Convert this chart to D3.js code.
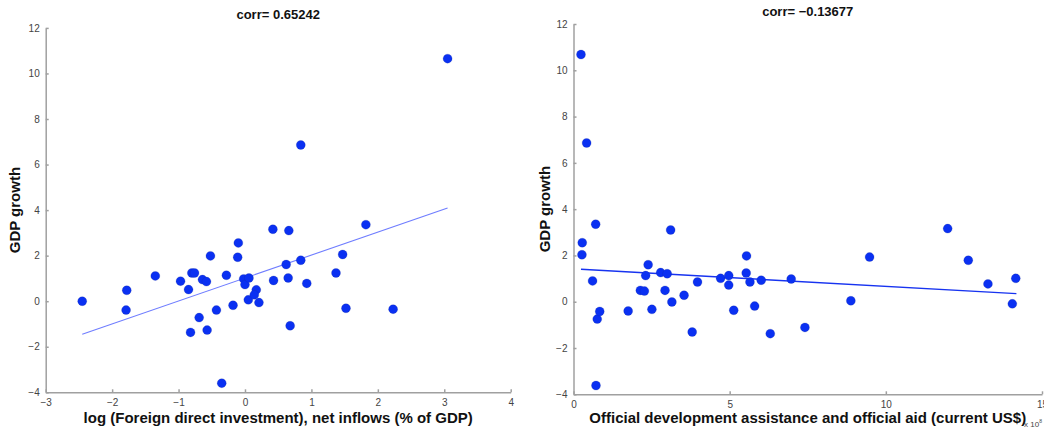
<!DOCTYPE html>
<html>
<head>
<meta charset="utf-8">
<script src="https://cdn.jsdelivr.net/npm/d3@7"></script>
<style>
	body { margin: 0; background: #fff; }
	svg { display: block; font-family: "Liberation Sans", Arial, Helvetica, sans-serif; }
	.axis path, .axis line { stroke: #a0a0a0; stroke-width: 1.5; }
	.axis text { fill: #444; font-size: 10px; }
</style>
</head>
<body>
<svg id="chart" width="1044" height="429"></svg>
<script>
// left panel: log FDI net inflows (% of GDP) vs GDP growth
const fdiLog = [-2.45, -1.78, -1.79, -1.35, -0.97, -0.85, -0.80, -0.76, -0.82, -0.69,
	-0.64, -0.58, -0.57, -0.52, -0.43, -0.35, -0.28, -0.18, -0.11, -0.10,
	-0.02, 0.00, 0.06, 0.05, 0.17, 0.14, 0.21, 0.42, 0.43, 0.62,
	0.66, 0.65, 0.68, 0.84, 0.93, 1.37, 1.47, 1.52, 1.82, 2.23,
	0.84, 3.05];
const fdiGrowth = [0.00, 0.48, -0.39, 1.11, 0.88, 0.51, 1.24, 1.24, -1.37, -0.72,
	0.95, 0.86, -1.27, 1.99, -0.39, -3.60, 1.14, -0.18, 1.93, 2.56,
	0.98, 0.73, 1.02, 0.06, 0.50, 0.28, -0.06, 3.16, 0.91, 1.61,
	3.10, 1.02, -1.08, 1.80, 0.78, 1.24, 2.05, -0.31, 3.36, -0.35,
	6.86, 10.65];

// right panel: ODA (current US$, x 10^8) vs GDP growth
const odaAid = [0.28, 0.27, 0.71, 0.61, 0.76, 0.84, 0.72, 1.75, 2.14, 2.27,
	2.31, 2.39, 2.51, 2.79, 2.93, 3.00, 3.11, 3.15, 3.54, 3.80,
	3.97, 4.71, 4.97, 4.97, 5.13, 5.54, 5.53, 5.65, 5.80, 6.01,
	6.30, 6.97, 7.41, 8.88, 9.48, 11.98, 12.64, 13.27, 14.05, 14.16,
	0.24, 0.42];
const odaGrowth = [2.55, 2.03, 3.35, 0.90, -0.75, -0.42, -3.62, -0.40, 0.49, 0.46,
	1.13, 1.60, -0.33, 1.26, 0.49, 1.21, 3.10, -0.01, 0.28, -1.31,
	0.85, 1.01, 1.13, 0.72, -0.37, 1.98, 1.24, 0.85, -0.19, 0.93,
	-1.38, 0.98, -1.11, 0.04, 1.93, 3.16, 1.79, 0.77, -0.09, 1.01,
	10.68, 6.86];

// fitted lines (end points as drawn)
const fdiFit = [[-2.45, -1.45], [3.05, 4.09]];
const odaFit = [[0.24, 1.40], [14.18, 0.35]];

const fdiTicksX = [-3, -2, -1, 0, 1, 2, 3, 4];
const odaTicksX = [0, 5, 10, 15];
const growthTicks = [-4, -2, 0, 2, 4, 6, 8, 10, 12];

const panels = [
	{
		title: "corr= 0.65242",
		xLabel: "log (Foreign direct investment), net inflows (% of GDP)",
		xs: fdiLog, ys: fdiGrowth, fit: fdiFit,
		xDomain: [-3, 4], xTicks: fdiTicksX,
		left: 45.7, right: 510.7, top: 27.9, bottom: 392.3,
		titleY: 19, labelX: 15,
		lineColor: "#6f7dff", lineWidth: 1.1
	},
	{
		title: "corr= \u22120.13677",
		xLabel: "Official development assistance and official aid (current US$)",
		xs: odaAid, ys: odaGrowth, fit: odaFit,
		xDomain: [0, 15], xTicks: odaTicksX,
		left: 573.5, right: 1042, top: 24, bottom: 394.3,
		titleY: 16, labelX: 545,
		lineColor: "#1733f0", lineWidth: 1.4,
		exponent: true
	}
];

const svg = d3.select("#chart");
const fmt = (d) => d < 0 ? "\u2212" + Math.abs(d) : "" + d;

panels.forEach((p) => {
	const x = d3.scaleLinear().domain(p.xDomain).range([p.left, p.right]);
	const y = d3.scaleLinear().domain([-4, 12]).range([p.bottom, p.top]);
	const g = svg.append("g");

	// axes, ticks pointing inward like matlab
	g.append("g")
		.attr("class", "axis")
		.attr("transform", "translate(0," + p.bottom + ")")
		.call(d3.axisBottom(x).tickValues(p.xTicks).tickFormat(fmt)
			.tickSizeInner(-3).tickSizeOuter(0).tickPadding(7));

	g.append("g")
		.attr("class", "axis")
		.attr("transform", "translate(" + p.left + ",0)")
		.call(d3.axisLeft(y).tickValues(growthTicks).tickFormat(fmt)
			.tickSizeInner(-3).tickSizeOuter(0).tickPadding(6));

	// fit line
	g.append("line")
		.attr("x1", x(p.fit[0][0]))
		.attr("y1", y(p.fit[0][1]))
		.attr("x2", x(p.fit[1][0]))
		.attr("y2", y(p.fit[1][1]))
		.attr("stroke", p.lineColor)
		.attr("stroke-width", p.lineWidth);

	// points
	g.append("g")
		.selectAll("circle")
		.data(d3.range(p.xs.length))
		.enter().append("circle")
			.attr("cx", (i) => x(p.xs[i]))
			.attr("cy", (i) => y(p.ys[i]))
			.attr("r", 4.5)
			.attr("fill", "#0a30f2")
			.attr("stroke", "#1a2a8a")
			.attr("stroke-opacity", 0.35)
			.attr("stroke-width", 0.6);

	// title + labels
	g.append("text")
		.text(p.title)
		.attr("x", (p.left + p.right) / 2)
		.attr("y", p.titleY)
		.attr("text-anchor", "middle")
		.attr("font-weight", "bold")
		.attr("font-size", "13px")
		.attr("fill", "#111");

	g.append("text")
		.text(p.xLabel)
		.attr("x", (p.left + p.right) / 2)
		.attr("y", 423)
		.attr("text-anchor", "middle")
		.attr("font-weight", "bold")
		.attr("font-size", "15px")
		.attr("fill", "#111");

	g.append("text")
		.text("GDP growth")
		.attr("transform", "translate(" + (p.labelX + 5) + "," + ((p.top + p.bottom) / 2) + ") rotate(-90)")
		.attr("text-anchor", "middle")
		.attr("font-weight", "bold")
		.attr("font-size", "15px")
		.attr("fill", "#111");

	if (p.exponent) {
		const e = g.append("text")
			.attr("x", 1024)
			.attr("y", 427)
			.attr("font-size", "8px")
			.attr("fill", "#444");
		e.append("tspan").text("x 10");
		e.append("tspan").text("8").attr("font-size", "5px").attr("dy", -4);
	}
});
</script>
</body>
</html>
